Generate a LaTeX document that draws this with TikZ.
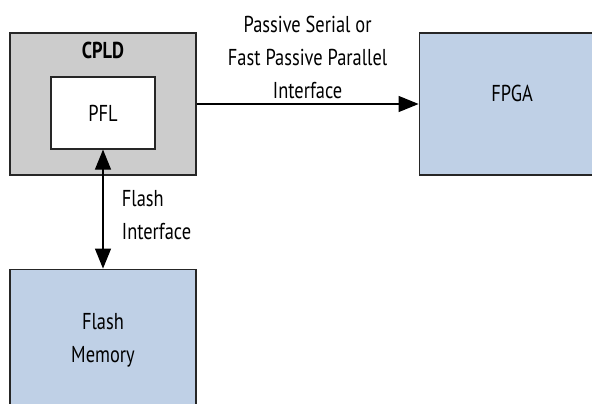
\documentclass[tikz,border=0pt]{standalone}
\usepackage{fontspec}
\setmainfont{PT Sans}[FakeStretch=0.8]
\usepackage{xcolor}
\usetikzlibrary{arrows.meta, positioning}

\definecolor{cpldgray}{HTML}{CCCCCC}
\definecolor{chipblue}{HTML}{BFD0E6}

\begin{document}
\begin{tikzpicture}[x=1pt, y=-1pt, >={Triangle[length=20pt, width=16pt]}, line width=1.2pt, node distance=93pt,
  block/.style={rectangle, draw=black!85, minimum width=186pt, minimum height=142pt, inner sep=0pt, align=center, font=\fontsize{23}{33}\selectfont},
  lbl/.style={align=center, font=\fontsize{23}{33}\selectfont}]

            \useasboundingbox (0,0) rectangle (592,404);

            \node[block, fill=cpldgray] (CPLD) at (103,104) {};
            \node[lbl, below=6pt of CPLD.north, font=\fontsize{23}{33}\selectfont\bfseries] (cpldname) {CPLD};
            \node[block, fill=white, minimum width=104pt, minimum height=72pt] (PFL) at (103,113) {PFL};
            \node[block, fill=chipblue, right=222pt of CPLD] (FPGA) {};
            \node[lbl] (fpganame) at ([yshift=11pt]FPGA.center) {FPGA};
            \node[block, fill=chipblue, below=of CPLD] (Flash) {Flash\\Memory};


            \draw[->] (CPLD.east) -- node[lbl, above=1pt] {Passive Serial or\\Fast Passive Parallel\\Interface} (FPGA.west);
            \draw[<->] (PFL.south) -- node[lbl, right=15pt, align=left, yshift=-6pt] {Flash\\Interface} (Flash.north);

        \end{tikzpicture}
\end{document}
